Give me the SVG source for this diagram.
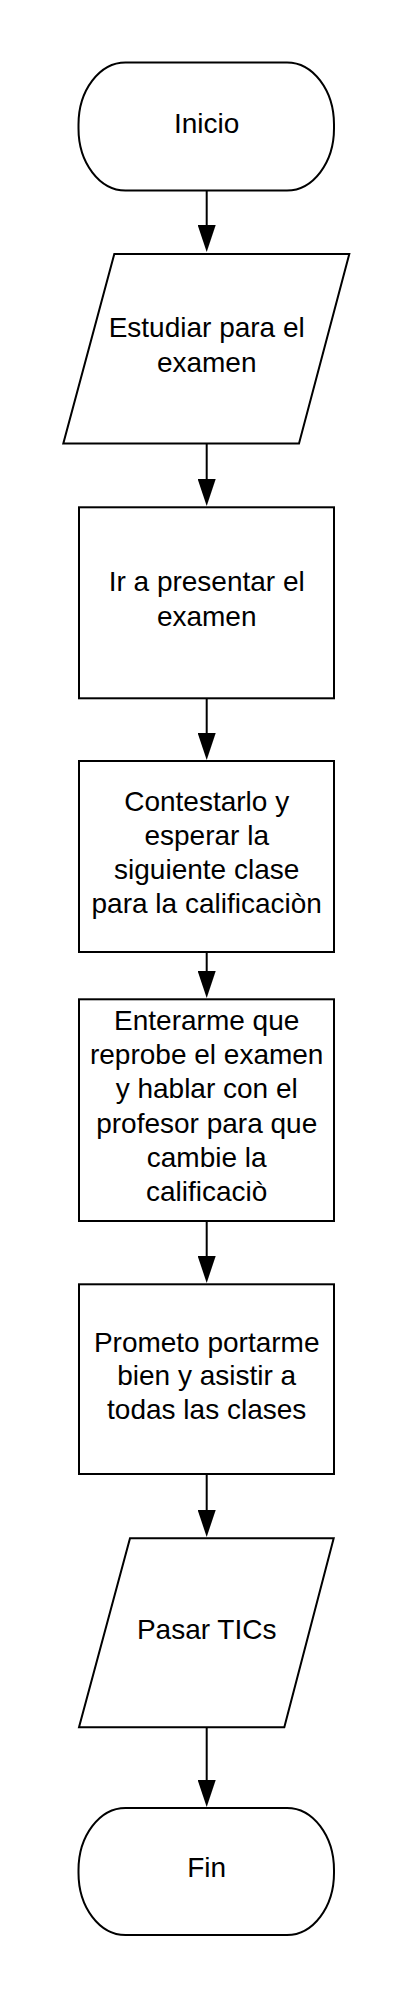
<svg xmlns="http://www.w3.org/2000/svg" width="413" height="1999" viewBox="0 0 413 1999">
<style>
.s{fill:#fff;stroke:#000;stroke-width:2}
.t{font-family:"Liberation Sans",Arial,sans-serif;font-size:28px;fill:#000;text-anchor:middle}
.c{fill:none;stroke:#000;stroke-width:2;marker-end:url(#ah)}
</style>
<defs>
<marker id="ah" viewBox="0 0 27 18" refX="17" refY="9" markerWidth="27" markerHeight="18" markerUnits="userSpaceOnUse" orient="auto">
<path d="M0,0 L27,9 L0,18 Z" fill="#000"/>
</marker>
</defs>
<rect width="413" height="1999" fill="#fff"/>
<g id="connectors">
<path class="c" d="M206.7,191 V242"/>
<path class="c" d="M206.7,443.5 V496"/>
<path class="c" d="M206.7,698.5 V750"/>
<path class="c" d="M206.7,952 V988"/>
<path class="c" d="M206.7,1221 V1273"/>
<path class="c" d="M206.7,1474 V1527"/>
<path class="c" d="M206.7,1727.5 V1797"/>
</g>
<g id="inicio">
<rect class="s" x="78.5" y="62.5" width="255.5" height="128" rx="47" ry="62"/>
<text class="t" x="206.7" y="133">Inicio</text>
</g>
<g id="estudiar">
<polygon class="s" points="114.3,254 349.3,254 299,443.5 63.3,443.5"/>
<text class="t" x="206.7" y="337.3">Estudiar para el</text>
<text class="t" x="206.7" y="371.7">examen</text>
</g>
<g id="presentar">
<rect class="s" x="79" y="507.3" width="255" height="191"/>
<text class="t" x="206.7" y="591">Ir a presentar el</text>
<text class="t" x="206.7" y="625.7">examen</text>
</g>
<g id="contestar">
<rect class="s" x="79" y="761" width="255" height="191"/>
<text class="t" x="206.7" y="810.7">Contestarlo y</text>
<text class="t" x="206.7" y="845">esperar la</text>
<text class="t" x="206.7" y="879.3">siguiente clase</text>
<text class="t" x="206.7" y="913.3">para la calificaciòn</text>
</g>
<g id="enterarme">
<rect class="s" x="79" y="999.3" width="255" height="221.7"/>
<text class="t" x="206.7" y="1030">Enterarme que</text>
<text class="t" x="206.7" y="1064.3">reprobe el examen</text>
<text class="t" x="206.7" y="1098.3">y hablar con el</text>
<text class="t" x="206.7" y="1132.7">profesor para que</text>
<text class="t" x="206.7" y="1166.7">cambie la</text>
<text class="t" x="206.7" y="1200.7">calificaciò</text>
</g>
<g id="prometo">
<rect class="s" x="79" y="1284.3" width="255" height="189.7"/>
<text class="t" x="206.7" y="1351.7">Prometo portarme</text>
<text class="t" x="206.7" y="1385">bien y asistir a</text>
<text class="t" x="206.7" y="1419">todas las clases</text>
</g>
<g id="pasar">
<polygon class="s" points="130,1538.3 333.7,1538.3 284.3,1727.3 79,1727.3"/>
<text class="t" x="206.7" y="1639.3">Pasar TICs</text>
</g>
<g id="fin">
<rect class="s" x="78.5" y="1808" width="255.5" height="127" rx="47" ry="62"/>
<text class="t" x="206.7" y="1877.3">Fin</text>
</g>
</svg>
